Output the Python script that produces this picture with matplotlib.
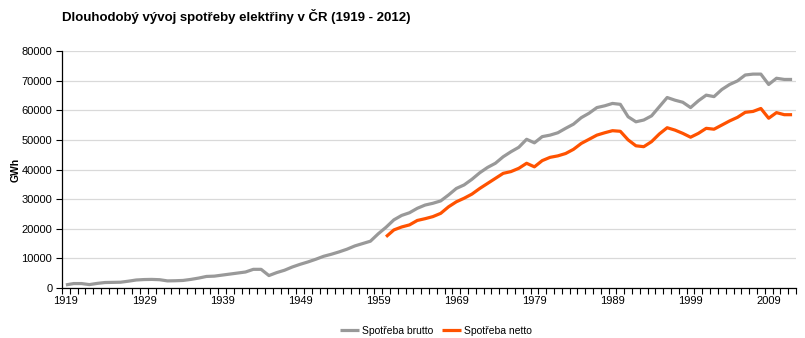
import numpy as np
import matplotlib
matplotlib.use("Agg")
import matplotlib.pyplot as plt
from matplotlib.ticker import FixedLocator, NullFormatter

plt.rcParams['font.family'] = ['Liberation Sans', 'DejaVu Sans']

# data (GWh)
years = list(range(1919, 2013))
brutto = [
  1050, 1500, 1500, 1150, 1550, 1850, 1900, 1950, 2300, 2700,   # 1919-1928
  2850, 2900, 2800, 2400, 2450, 2550, 2900, 3350, 3900, 4000,   # 1929-1938
  4350, 4700, 5050, 5400, 6300, 6300, 4200, 5200, 6000, 7100,   # 1939-1948
  8000, 8800, 9700, 10700, 11400, 12200, 13100, 14200, 15000, 15800,  # 1949-1958
  18300, 20500, 23000, 24500, 25400, 26900, 28000, 28600, 29400, 31400,  # 1959-1968
  33600, 34800, 36700, 38900, 40700, 42100, 44300, 46000, 47500, 50200,  # 1969-1978
  49000, 51100, 51600, 52400, 53900, 55300, 57500, 59000, 60900, 61500,  # 1979-1988
  62300, 62000, 57800, 56100, 56700, 58100, 61200, 64300, 63400, 62700,  # 1989-1998
  60900, 63200, 65100, 64600, 67000, 68700, 69900, 71900, 72200, 72200,  # 1999-2008
  68700, 70800, 70400, 70400,  # 2009-2012
]
netto_years = list(range(1960, 2013))
netto = [
  17300, 19600, 20600, 21300, 22800, 23400, 24100, 25200, 27400,  # 1960-1968
  29100, 30300, 31700, 33600, 35300, 37000, 38700, 39300, 40400, 42100,  # 1969-1978
  40900, 43000, 44100, 44600, 45400, 46800, 48800, 50200, 51600, 52400,  # 1979-1988
  53100, 52900, 50000, 48000, 47700, 49400, 52000, 54100, 53300, 52200,  # 1989-1998
  50900, 52200, 53900, 53600, 55000, 56400, 57600, 59300, 59600, 60600,  # 1999-2008
  57300, 59200, 58500, 58500,  # 2009-2012
]
label_years = list(range(1919, 2013, 10))

fig = plt.figure(figsize=(8.05, 3.38), dpi=100)
ax = fig.add_axes([62/805, 50/338, 734/805, 237/338])

ax.plot(years, brutto, color='#999999', lw=2.3, label='Spotřeba brutto', solid_capstyle='butt')
ax.plot(netto_years, netto, color='#ff5200', lw=2.3, label='Spotřeba netto', solid_capstyle='butt')

ax.set_xlim(1918.5, 2012.5)
ax.set_ylim(0, 80000)
ax.set_yticks(range(0, 80001, 10000))
ax.tick_params(axis='y', direction='out', length=4, width=0.8, labelsize=8, pad=3)
ax.yaxis.grid(True, color='#d9d9d9', lw=0.9)
ax.set_axisbelow(True)

# category axis: tick marks between years, labels at year centres
ax.xaxis.set_major_locator(FixedLocator([y + 0.5 for y in range(1918, 2013)]))
ax.xaxis.set_major_formatter(NullFormatter())
ax.xaxis.set_minor_locator(FixedLocator(label_years))
ax.set_xticklabels([str(y) for y in label_years], minor=True)
ax.tick_params(axis='x', which='major', direction='out', length=4, width=0.8)
ax.tick_params(axis='x', which='minor', length=0, labelsize=8, pad=6)

for s in ['top', 'right']:
  ax.spines[s].set_visible(False)
ax.spines['left'].set_linewidth(0.9)
ax.spines['bottom'].set_linewidth(0.9)

ax.set_ylabel('GWh', fontsize=7.5, fontweight='bold')
ax.yaxis.set_label_coords(-41/734, 0.5)
fig.text(62/805, 1 - 17/338, 'Dlouhodobý vývoj spotřeby elektřiny v ČR (1919 - 2012)',
         fontsize=9.5, fontweight='bold', va='center', ha='left')

fig.legend(loc='center', bbox_to_anchor=(436/805, 1 - 331/338), ncol=2, frameon=False,
           fontsize=7.5, handlelength=1.8, handletextpad=0.3, columnspacing=0.8)

fig.savefig('out.png', dpi=100)
